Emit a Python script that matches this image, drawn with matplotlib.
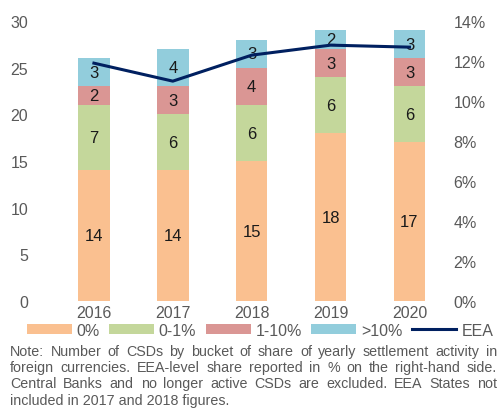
import numpy as np
import matplotlib
matplotlib.use('Agg')
import matplotlib.pyplot as plt
from matplotlib.ticker import FuncFormatter

plt.rcParams['font.family'] = ['Liberation Sans', 'DejaVu Sans']

anos = ['2016', '2017', '2018', '2019', '2020']
zero = [14, 14, 15, 18, 17]
zero_um = [7, 6, 6, 6, 6]
um_dez = [2, 3, 4, 3, 3]
mais_dez = [3, 4, 3, 2, 3]
eea = [11.9, 11.0, 12.3, 12.8, 12.7]  # % (eixo direito)

series = [zero, zero_um, um_dez, mais_dez]
nomes = ['0%', '0-1%', '1-10%', '>10%']
cores = ['#FAC090', '#C4D79B', '#DA9694', '#92CDDC']
cinza = '#595959'

fig = plt.figure(figsize=(5, 4.1), dpi=100)
ax = fig.add_axes([0.09, 0.263, 0.80, 0.683])
x = np.arange(len(anos))
base = np.zeros(len(anos))
handles = []
for s, nome, cor in zip(series, nomes, cores):
    b = ax.bar(x, s, 0.4, bottom=base, color=cor, label=nome)
    handles.append(b)
    for xi, v, bi in zip(x, s, base):
        ax.text(xi, bi + v / 2, str(v), ha='center', va='center', fontsize=12, color='#1a1a1a')
    base += np.array(s)

ax.set_ylim(0, 30)
ax.set_xlim(-0.62, 4.45)
ax.set_yticks(range(0, 31, 5))
ax.set_xticks(x)
ax.set_xticklabels(anos)
for sp in ax.spines.values():
    sp.set_visible(False)
ax.tick_params(length=0, labelsize=11.5, colors=cinza, pad=3)
ax.tick_params(axis='y', pad=12)

ax2 = ax.twinx()
linha, = ax2.plot(x, eea, color='#002060', lw=2.2, label='EEA')
ax2.set_ylim(0, 14)
ax2.set_yticks(range(0, 15, 2))
ax2.yaxis.set_major_formatter(FuncFormatter(lambda v, p: '%d%%' % v))
for sp in ax2.spines.values():
    sp.set_visible(False)
ax2.tick_params(length=0, labelsize=11.5, colors=cinza, pad=6)

fig.legend(handles + [linha], nomes + ['EEA'], loc='center', bbox_to_anchor=(0.52, 1 - 331 / 410),
           ncol=5, frameon=False, fontsize=11.5, handlelength=2.8, handleheight=0.55,
           columnspacing=0.6, handletextpad=0.3, labelcolor=cinza, borderpad=0)

# nota justificada
linhas = ['Note: Number of CSDs by bucket of share of yearly settlement activity in',
          'foreign currencies. EEA-level share reported in % on the right-hand side.',
          'Central Banks and no longer active CSDs are excluded. EEA States not',
          'included in 2017 and 2018 figures.']
fig.canvas.draw()
r = fig.canvas.get_renderer()
x0, x1 = 10, 497
W = fig.bbox.width
for i, ln in enumerate(linhas):
    yp = 1 - (352 + 16.2 * i) / 410
    palavras = ln.split(' ')
    if i == len(linhas) - 1:
        fig.text(x0 / W, yp, ln, fontsize=10.3, color=cinza, va='center')
        continue
    ts = [fig.text(0, yp, p, fontsize=10.3, color=cinza, va='center') for p in palavras]
    ws = [t.get_window_extent(r).width for t in ts]
    gap = (x1 - x0 - sum(ws)) / (len(ws) - 1)
    pos = x0
    for t, w in zip(ts, ws):
        t.set_x(pos / W)
        pos += w + gap

fig.savefig('out.png', dpi=100)
